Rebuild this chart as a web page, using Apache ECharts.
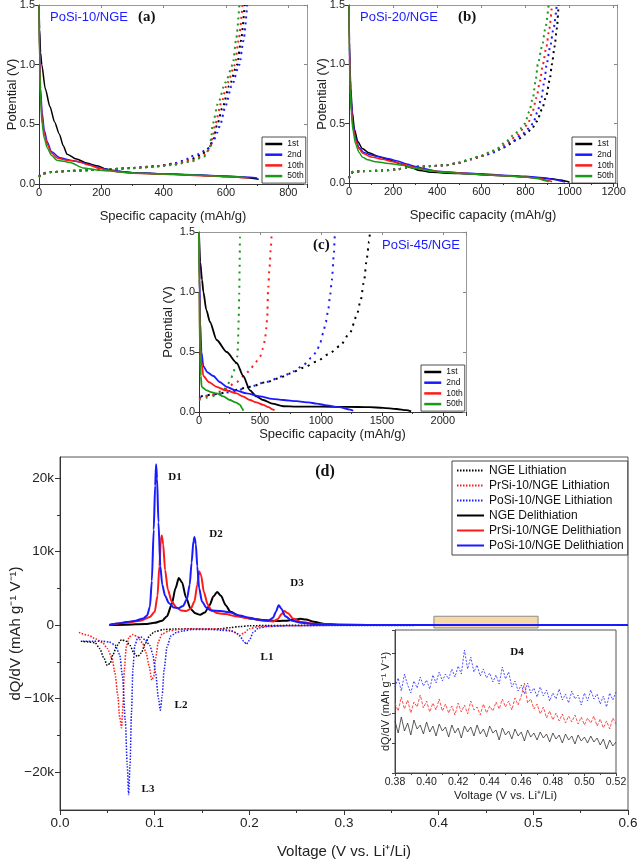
<!DOCTYPE html>
<html>
<head>
<meta charset="utf-8">
<script src="https://cdn.jsdelivr.net/npm/echarts@6/dist/echarts.min.js"></script>
<style>
html, body { margin: 0; padding: 0; background: #fff; }
#main { width: 640px; height: 862px; }
</style>
</head>
<body>
<div id="main"></div>
<script>
// ---- panel (a) PoSi-10/NGE : [capacity mAh/g, potential V]
var aDis1 = [[0,1.5],[2,1.3],[5,1.1],[9,1.0],[20,0.8],[35,0.65],[50,0.52],[65,0.42],[78,0.32],[90,0.25],[120,0.21],[153,0.175],[190,0.15],[215,0.125],[240,0.11],[270,0.102],[300,0.095],[400,0.085],[500,0.075],[600,0.062],[660,0.055],[705,0.04]];
var aDis2 = [[0,1.5],[2,1.1],[5,0.8],[10,0.6],[17,0.45],[27,0.35],[40,0.27],[67,0.22],[100,0.2],[131,0.185],[165,0.16],[195,0.135],[225,0.12],[260,0.105],[300,0.095],[400,0.086],[500,0.078],[600,0.066],[660,0.058],[700,0.05]];
var aDis10 = [[0,1.5],[2,1.05],[5,0.75],[10,0.55],[17,0.42],[27,0.33],[40,0.26],[60,0.215],[90,0.2],[120,0.19],[160,0.16],[195,0.13],[225,0.115],[260,0.1],[300,0.09],[400,0.082],[500,0.072],[600,0.06],[672,0.05]];
var aDis50 = [[0,1.5],[2,1.0],[5,0.7],[10,0.5],[17,0.38],[27,0.3],[40,0.24],[57,0.2],[80,0.19],[100,0.18],[141,0.135],[195,0.115],[230,0.108],[260,0.1],[300,0.092],[400,0.083],[500,0.075],[600,0.062],[663,0.055]];
var aChg1 = [[0,0.06],[10,0.085],[40,0.1],[100,0.11],[200,0.12],[300,0.135],[380,0.15],[430,0.17],[480,0.2],[520,0.24],[545,0.3],[560,0.38],[572,0.5],[590,0.65],[610,0.82],[636,1.0],[648,1.2],[660,1.5]];
var aChg2 = [[0,0.065],[10,0.09],[40,0.1],[100,0.11],[200,0.12],[300,0.135],[380,0.15],[430,0.17],[470,0.2],[485,0.23],[510,0.25],[540,0.29],[560,0.36],[572,0.43],[582,0.5],[598,0.65],[618,0.82],[643,1.0],[656,1.2],[668,1.5]];
var aChg10 = [[0,0.06],[10,0.085],[40,0.1],[100,0.11],[200,0.12],[300,0.133],[380,0.148],[430,0.165],[490,0.2],[530,0.24],[550,0.3],[558,0.4],[565,0.5],[585,0.68],[605,0.85],[629,1.0],[640,1.2],[653,1.5]];
var aChg50 = [[0,0.055],[10,0.085],[40,0.1],[100,0.11],[200,0.12],[300,0.132],[380,0.146],[430,0.16],[490,0.19],[530,0.23],[548,0.3],[553,0.4],[557,0.5],[575,0.68],[598,0.85],[622,1.0],[632,1.2],[643,1.5]];

// ---- panel (b) PoSi-20/NGE
var bDis1 = [[0,1.5],[2,1.2],[4,1.0],[8,0.8],[15,0.6],[25,0.45],[40,0.35],[60,0.29],[90,0.255],[130,0.225],[180,0.195],[230,0.165],[280,0.13],[320,0.105],[380,0.09],[450,0.083],[550,0.075],[650,0.066],[750,0.056],[850,0.045],[920,0.035],[960,0.025],[990,0.012],[1000,0.005]];
var bDis2 = [[0,1.5],[2,1.15],[5,0.9],[10,0.7],[18,0.5],[30,0.38],[45,0.3],[65,0.26],[100,0.235],[140,0.22],[180,0.205],[220,0.185],[260,0.16],[300,0.14],[340,0.12],[400,0.1],[500,0.087],[600,0.077],[700,0.066],[800,0.056],[880,0.045],[930,0.03],[965,0.015],[980,0.008]];
var bDis10 = [[0,1.5],[2,1.1],[5,0.85],[10,0.65],[18,0.47],[30,0.36],[45,0.29],[62,0.25],[100,0.22],[150,0.2],[200,0.18],[250,0.155],[300,0.13],[350,0.11],[420,0.095],[520,0.082],[620,0.07],[720,0.06],[800,0.05],[860,0.04],[900,0.022],[920,0.01]];
var bDis50 = [[0,1.5],[2,1.05],[5,0.8],[10,0.6],[18,0.44],[30,0.33],[45,0.26],[60,0.22],[85,0.195],[120,0.18],[180,0.165],[240,0.15],[300,0.125],[360,0.105],[430,0.09],[530,0.078],[630,0.068],[730,0.058],[810,0.048],[860,0.035],[890,0.018],[905,0.01]];
var bChg1 = [[0,0.04],[8,0.08],[20,0.095],[60,0.1],[150,0.105],[220,0.115],[260,0.13],[320,0.138],[380,0.143],[440,0.15],[500,0.17],[550,0.2],[610,0.23],[660,0.26],[700,0.3],[760,0.36],[800,0.41],[830,0.46],[852,0.52],[875,0.62],[895,0.74],[910,0.87],[920,1.0],[932,1.15],[942,1.3],[950,1.5]];
var bChg2 = [[0,0.04],[8,0.08],[20,0.095],[60,0.1],[150,0.105],[220,0.115],[260,0.13],[320,0.138],[380,0.143],[440,0.15],[500,0.17],[550,0.2],[610,0.23],[655,0.26],[690,0.29],[740,0.35],[785,0.41],[815,0.46],[834,0.5],[855,0.6],[872,0.72],[886,0.86],[896,1.0],[912,1.15],[927,1.3],[942,1.5]];
var bChg10 = [[0,0.04],[8,0.08],[20,0.095],[60,0.1],[150,0.105],[220,0.115],[260,0.13],[320,0.138],[380,0.143],[440,0.15],[500,0.17],[550,0.2],[605,0.23],[645,0.26],[680,0.29],[725,0.35],[765,0.41],[792,0.46],[811,0.5],[832,0.6],[850,0.72],[866,0.86],[879,1.0],[895,1.15],[908,1.3],[920,1.5]];
var bChg50 = [[0,0.04],[8,0.08],[20,0.095],[60,0.1],[150,0.105],[220,0.115],[260,0.13],[320,0.138],[380,0.143],[440,0.15],[500,0.17],[545,0.2],[600,0.23],[640,0.26],[670,0.29],[712,0.35],[750,0.41],[778,0.46],[797,0.5],[817,0.6],[834,0.72],[846,0.86],[856,1.0],[875,1.15],[890,1.3],[905,1.5]];

// ---- panel (c) PoSi-45/NGE
var cDis1 = [[0,1.5],[10,1.25],[25,1.1],[36,1.0],[60,0.85],[90,0.75],[145,0.6],[227,0.5],[309,0.41],[363,0.3],[418,0.18],[470,0.13],[527,0.1],[600,0.07],[691,0.048],[800,0.045],[1000,0.044],[1200,0.043],[1400,0.04],[1510,0.035],[1620,0.025],[1700,0.015],[1740,0.005]];
var cDis2 = [[0,1.5],[5,1.1],[10,0.75],[20,0.5],[36,0.38],[70,0.33],[118,0.3],[170,0.25],[227,0.21],[300,0.18],[391,0.155],[500,0.13],[600,0.11],[691,0.1],[800,0.09],[900,0.08],[964,0.07],[1050,0.055],[1150,0.04],[1238,0.02],[1265,0.01]];
var cDis10 = [[0,1.5],[4,1.0],[8,0.59],[20,0.42],[36,0.3],[80,0.25],[145,0.21],[220,0.18],[309,0.155],[360,0.13],[418,0.1],[470,0.08],[527,0.06],[570,0.04],[609,0.02],[620,0.015]];
var cDis50 = [[0,1.5],[3,1.0],[8,0.48],[15,0.3],[22,0.21],[63,0.18],[100,0.165],[145,0.155],[200,0.13],[254,0.1],[300,0.08],[336,0.06],[355,0.03],[363,0.01]];
var cChg1 = [[15,0.13],[150,0.15],[281,0.18],[420,0.21],[555,0.25],[650,0.28],[746,0.32],[860,0.37],[964,0.42],[1060,0.48],[1156,0.55],[1238,0.66],[1293,0.8],[1326,0.93],[1355,1.1],[1375,1.27],[1395,1.42],[1402,1.5]];
var cChg2 = [[0,0.12],[150,0.15],[281,0.17],[418,0.21],[550,0.25],[691,0.3],[780,0.34],[855,0.39],[920,0.45],[964,0.5],[995,0.58],[1019,0.66],[1040,0.75],[1060,0.85],[1074,0.96],[1090,1.1],[1105,1.3],[1115,1.48],[1118,1.5]];
var cChg10 = [[0,0.11],[100,0.14],[200,0.18],[309,0.25],[370,0.3],[418,0.35],[460,0.41],[500,0.46],[525,0.53],[541,0.6],[552,0.7],[560,0.8],[566,1.0],[578,1.2],[590,1.38],[596,1.48],[598,1.5]];
var cChg50 = [[0,0.1],[70,0.12],[145,0.14],[200,0.18],[227,0.21],[255,0.26],[281,0.32],[300,0.4],[314,0.46],[320,0.55],[322,0.66],[326,0.8],[330,0.99],[333,1.2],[336,1.45],[337,1.5]];

// ---- panel (d) dQ/dV : [voltage V, dQ/dV in thousands]
var ngeLith = [[0.022,-2.2],[0.03,-2.3],[0.037,-2.4],[0.042,-3.2],[0.046,-4.4],[0.05,-5.5],[0.053,-5.2],[0.056,-4],[0.06,-2.8],[0.065,-2],[0.07,-2.2],[0.074,-2.8],[0.078,-3.8],[0.082,-4.3],[0.086,-3.8],[0.09,-2.5],[0.095,-1.4],[0.1,-0.9],[0.11,-0.6],[0.12,-0.55],[0.14,-0.5],[0.16,-0.55],[0.17,-0.5],[0.18,-0.35],[0.19,-0.2],[0.2,-0.1],[0.22,-0.05],[0.3,0],[0.6,0]];
var prLith = [[0.02,-1],[0.03,-1.4],[0.038,-1.9],[0.045,-2.4],[0.05,-3.2],[0.055,-4.5],[0.058,-6.5],[0.061,-9.5],[0.063,-12.5],[0.065,-14],[0.0665,-11],[0.068,-6],[0.07,-3],[0.073,-1.6],[0.077,-1.3],[0.082,-1.6],[0.087,-2.4],[0.091,-3.8],[0.094,-5.5],[0.097,-7.5],[0.099,-7],[0.101,-4.5],[0.104,-2.2],[0.108,-1.2],[0.115,-0.8],[0.125,-0.6],[0.14,-0.5],[0.16,-0.5],[0.175,-0.6],[0.182,-0.8],[0.187,-1.2],[0.19,-1.4],[0.194,-1.1],[0.2,-0.5],[0.21,-0.2],[0.23,-0.1],[0.3,-0.03],[0.6,0]];
var poLith = [[0.024,-2.2],[0.035,-2.2],[0.045,-2.2],[0.052,-2.3],[0.058,-2.7],[0.063,-4],[0.066,-7],[0.069,-13],[0.071,-19],[0.0725,-23.1],[0.074,-19],[0.0755,-12],[0.077,-6],[0.079,-2.8],[0.082,-1.8],[0.085,-1.6],[0.09,-2],[0.095,-2.8],[0.098,-4],[0.101,-6.5],[0.104,-10],[0.106,-11.6],[0.108,-9.5],[0.11,-6],[0.113,-3],[0.117,-1.5],[0.123,-1],[0.13,-0.8],[0.14,-0.6],[0.16,-0.6],[0.17,-0.7],[0.18,-0.8],[0.186,-1],[0.19,-1.5],[0.194,-2.2],[0.197,-2.6],[0.2,-2.1],[0.204,-1],[0.21,-0.4],[0.22,-0.2],[0.24,-0.1],[0.3,-0.05],[0.6,0]];
var ngeDelith = [[0.052,0],[0.07,0.05],[0.09,0.15],[0.1,0.3],[0.108,0.6],[0.113,1.2],[0.118,2.8],[0.122,5],[0.1255,6.4],[0.129,5.8],[0.133,3.8],[0.138,2.2],[0.143,1.6],[0.148,1.4],[0.153,1.7],[0.158,2.7],[0.162,3.9],[0.166,4.5],[0.17,4],[0.175,2.7],[0.18,1.8],[0.19,1.2],[0.2,0.9],[0.215,0.7],[0.23,0.55],[0.24,0.6],[0.248,0.75],[0.254,0.85],[0.26,0.75],[0.268,0.45],[0.28,0.15],[0.3,0.03],[0.35,0],[0.6,0]];
var prDelith = [[0.052,0],[0.07,0.3],[0.085,0.6],[0.095,1.1],[0.1,1.8],[0.103,4],[0.105,8],[0.1065,11.5],[0.1075,12.2],[0.109,11],[0.111,7.5],[0.114,4.8],[0.118,3.2],[0.123,2.4],[0.128,2],[0.133,1.9],[0.138,2.2],[0.142,3.2],[0.145,5.5],[0.147,7.3],[0.149,6.8],[0.152,4.5],[0.156,2.8],[0.16,2],[0.167,1.6],[0.175,1.5],[0.185,1.2],[0.2,0.9],[0.215,0.6],[0.225,0.5],[0.23,0.8],[0.234,1.5],[0.237,1.9],[0.241,1.6],[0.246,0.9],[0.255,0.4],[0.27,0.15],[0.3,0.03],[0.35,0],[0.6,0]];
var poDelith = [[0.052,0],[0.06,0.2],[0.07,0.4],[0.08,0.6],[0.088,0.9],[0.092,1.3],[0.095,2.5],[0.097,6],[0.099,13],[0.1005,19],[0.1015,21.9],[0.1025,20],[0.104,14],[0.106,8],[0.108,5.5],[0.111,4],[0.115,3],[0.12,2.4],[0.125,2.3],[0.13,2.6],[0.134,3.5],[0.137,5.5],[0.139,8.5],[0.141,11.5],[0.142,12],[0.1435,11],[0.145,8],[0.147,5],[0.15,3.2],[0.155,2.3],[0.16,2],[0.17,1.9],[0.18,1.7],[0.19,1.3],[0.2,1],[0.21,0.7],[0.22,0.6],[0.225,1],[0.228,1.8],[0.231,2.7],[0.234,2.2],[0.238,1.2],[0.245,0.6],[0.255,0.3],[0.27,0.1],[0.3,0.02],[0.35,0],[0.6,0]];
var zoomBox = [0.395, 0.505, -0.4, 1.2];   // highlighted voltage window (x0, x1, y0, y1)

// ---- inset (D4 region), arbitrary units
var insetV = [0.380,0.382,0.384,0.386,0.388,0.390,0.392,0.394,0.396,0.398,0.400,0.402,0.404,0.406,0.408,0.410,0.412,0.414,0.416,0.418,0.420,0.422,0.424,0.426,0.428,0.430,0.432,0.434,0.436,0.438,0.440,0.442,0.444,0.446,0.448,0.450,0.452,0.454,0.456,0.458,0.460,0.462,0.464,0.466,0.468,0.470,0.472,0.474,0.476,0.478,0.480,0.482,0.484,0.486,0.488,0.490,0.492,0.494,0.496,0.498,0.500,0.502,0.504,0.506,0.508,0.510,0.512,0.514,0.516,0.518,0.520];
var insetPo = [86,95,82,99,88,80,92,85,96,87,93,84,98,90,101,92,99,94,104,96,107,99,123,104,116,101,108,97,104,95,100,91,98,89,106,94,101,86,92,82,88,79,90,80,85,76,86,77,83,72,80,74,84,73,79,70,82,74,78,68,80,72,83,74,79,69,77,66,80,73,81];
var insetPr = [70,62,76,64,73,60,71,66,78,65,72,61,70,63,74,62,69,60,67,58,70,61,68,59,72,63,66,58,69,60,67,62,71,64,74,66,72,63,75,68,77,90,70,74,64,69,59,66,55,62,53,60,52,59,50,57,51,58,49,56,48,55,50,57,47,54,45,52,44,55,49];
var insetNge = [52,40,56,42,50,38,53,44,48,39,51,41,47,37,49,42,46,36,48,40,45,35,47,41,46,37,48,39,44,36,47,40,43,33,45,38,42,34,44,37,41,32,43,36,40,33,41,35,39,31,40,34,38,30,39,33,37,29,38,32,36,30,37,31,35,28,34,24,33,27,31];

var BLK = '#000000', BLU = '#1a1aff', RED = '#ff1a1a', GRN = '#1a9a1a';
var SANS = '"Liberation Sans", Arial, sans-serif';
var SERIF = '"Liberation Serif", "Times New Roman", serif';

function pairs(xs, ys) {
  return xs.map(function (x, i) { return [x, ys[i]]; });
}

function lineSeries(name, data, color, xi, yi, dash, width) {
  return {
    type: 'line', name: name, data: data, xAxisIndex: xi, yAxisIndex: yi,
    symbol: 'none', smooth: 0.25, smoothMonotone: 'x', silent: true, animation: false,
    lineStyle: { color: color, width: width, type: dash || 'solid' },
    itemStyle: { color: color }
  };
}

function capBottom(grid, max, nameGap) {
  return {
    type: 'value', gridIndex: grid, min: 0, max: max, interval: 200, position: 'bottom',
    axisLine: { show: true, onZero: false, lineStyle: { color: '#333' } },
    axisTick: { show: true, length: 4, lineStyle: { color: '#333' } },
    minorTick: { show: true, splitNumber: 2, length: 2, lineStyle: { color: '#333' } },
    axisLabel: { color: '#222', fontSize: 11, fontFamily: SANS, margin: 3, showMaxLabel: false,
      formatter: function (v) { return String(v); } },
    splitLine: { show: false }, minorSplitLine: { show: false },
    name: 'Specific capacity (mAh/g)', nameLocation: 'middle', nameGap: nameGap, nameMoveOverlap: false,
    nameTextStyle: { color: '#222', fontSize: 13, fontFamily: SANS }
  };
}
function capTop(grid, max) {
  return {
    type: 'value', gridIndex: grid, min: 0, max: max, interval: 200, position: 'top',
    axisLine: { show: true, onZero: false, lineStyle: { color: '#999' } },
    axisTick: { show: true, inside: true, length: 3, lineStyle: { color: '#888' } },
    axisLabel: { show: false }, splitLine: { show: false }
  };
}
function potLeft(grid) {
  return {
    type: 'value', gridIndex: grid, min: 0, max: 1.5, interval: 0.5, position: 'left',
    axisLine: { show: true, onZero: false, lineStyle: { color: '#333' } },
    axisTick: { show: true, length: 4, lineStyle: { color: '#333' } },
    axisLabel: { color: '#222', fontSize: 11, fontFamily: SANS, margin: 4,
      formatter: function (v) { return v.toFixed(1); } },
    splitLine: { show: false },
    name: 'Potential (V)', nameLocation: 'middle', nameGap: 20, nameMoveOverlap: false,
    nameTextStyle: { color: '#222', fontSize: 13, fontFamily: SANS }
  };
}
function potRight(grid) {
  return {
    type: 'value', gridIndex: grid, min: 0, max: 1.5, interval: 0.5, position: 'right',
    axisLine: { show: true, onZero: false, lineStyle: { color: '#999' } },
    axisTick: { show: true, inside: true, length: 3, lineStyle: { color: '#888' } },
    axisLabel: { show: false }, splitLine: { show: false }
  };
}
function cycleLegend(left, top) {
  return {
    show: true, orient: 'vertical', left: left, top: top, selectedMode: false,
    data: ['1st', '2nd', '10th', '50th'],
    itemWidth: 17, itemHeight: 4, itemGap: 0.7, padding: [2, 2, 2, 2],
    borderColor: '#222', borderWidth: 0.8, backgroundColor: '#fff',
    itemStyle: { opacity: 0 }, lineStyle: { width: 2.5 },
    textStyle: { fontSize: 8.5, fontFamily: SANS, color: '#111', lineHeight: 10 }
  };
}
function kFmt(v) {
  if (v === 0) return '0';
  return (v < 0 ? '\u2212' + (-v) : v) + 'k';
}

var series = [];
// panel (a)
series.push(lineSeries('1st c', aChg1, BLK, 0, 0, [2, 4], 2));
series.push(lineSeries('2nd c', aChg2, BLU, 0, 0, [2, 4], 2));
series.push(lineSeries('10th c', aChg10, RED, 0, 0, [2, 4], 2));
series.push(lineSeries('50th c', aChg50, GRN, 0, 0, [2, 4], 2));
series.push(lineSeries('1st', aDis1, BLK, 0, 0, null, 1.5));
series.push(lineSeries('2nd', aDis2, BLU, 0, 0, null, 1.5));
series.push(lineSeries('10th', aDis10, RED, 0, 0, null, 1.5));
series.push(lineSeries('50th', aDis50, GRN, 0, 0, null, 1.5));
// panel (b)
series.push(lineSeries('1st c', bChg1, BLK, 2, 2, [2, 4], 2));
series.push(lineSeries('2nd c', bChg2, BLU, 2, 2, [2, 4], 2));
series.push(lineSeries('10th c', bChg10, RED, 2, 2, [2, 4], 2));
series.push(lineSeries('50th c', bChg50, GRN, 2, 2, [2, 4], 2));
series.push(lineSeries('1st', bDis1, BLK, 2, 2, null, 1.5));
series.push(lineSeries('2nd', bDis2, BLU, 2, 2, null, 1.5));
series.push(lineSeries('10th', bDis10, RED, 2, 2, null, 1.5));
series.push(lineSeries('50th', bDis50, GRN, 2, 2, null, 1.5));
// panel (c)
series.push(lineSeries('1st c', cChg1, BLK, 4, 4, [2, 5], 2));
series.push(lineSeries('2nd c', cChg2, BLU, 4, 4, [2, 5], 2));
series.push(lineSeries('10th c', cChg10, RED, 4, 4, [2, 5], 2));
series.push(lineSeries('50th c', cChg50, GRN, 4, 4, [2, 5], 2));
series.push(lineSeries('1st', cDis1, BLK, 4, 4, null, 1.8));
series.push(lineSeries('2nd', cDis2, BLU, 4, 4, null, 1.8));
series.push(lineSeries('10th', cDis10, RED, 4, 4, null, 1.8));
series.push(lineSeries('50th', cDis50, GRN, 4, 4, null, 1.8));
// panel (d)
series.push(lineSeries('NGE Lithiation', ngeLith, BLK, 6, 6, [1.5, 1.5], 1.5));
series.push(lineSeries('PrSi-10/NGE Lithiation', prLith, RED, 6, 6, [1.5, 1.5], 1.5));
series.push(lineSeries('PoSi-10/NGE Lithiation', poLith, BLU, 6, 6, [1.5, 1.5], 1.5));
series.push(lineSeries('NGE Delithiation', ngeDelith, BLK, 6, 6, null, 2));
series.push(lineSeries('PrSi-10/NGE Delithiation', prDelith, RED, 6, 6, null, 2));
series.push(lineSeries('PoSi-10/NGE Delithiation', poDelith, BLU, 6, 6, null, 2));
series.push({
  type: 'line', name: 'window', xAxisIndex: 6, yAxisIndex: 6, data: [], z: 10, silent: true,
  markArea: {
    silent: true,
    itemStyle: { color: '#f6d9a6', borderColor: '#8a8a8a', borderWidth: 1 },
    data: [[{ xAxis: zoomBox[0], yAxis: zoomBox[3] }, { xAxis: zoomBox[1], yAxis: zoomBox[2] }]]
  }
});
// inset
var insetNgeS = lineSeries('inset NGE', pairs(insetV, insetNge), '#333333', 7, 8, null, 0.8);
var insetPrS = lineSeries('inset Pr', pairs(insetV, insetPr), '#ff3b3b', 7, 8, [3, 1.5], 0.9);
var insetPoS = lineSeries('inset Po', pairs(insetV, insetPo), '#3d3dff', 7, 8, [2, 1.5], 0.9);
[insetNgeS, insetPrS, insetPoS].forEach(function (s) { s.smooth = false; series.push(s); });

var labels = [
  { t: 'PoSi-10/NGE', x: 50, y: 17, font: '13px ' + SANS, fill: '#1a1aff', align: 'left' },
  { t: '(a)', x: 138, y: 17, font: 'bold 15px ' + SERIF, fill: '#111', align: 'left' },
  { t: 'PoSi-20/NGE', x: 360, y: 17, font: '13px ' + SANS, fill: '#1a1aff', align: 'left' },
  { t: '(b)', x: 458, y: 17, font: 'bold 15px ' + SERIF, fill: '#111', align: 'left' },
  { t: '(c)', x: 313, y: 245, font: 'bold 15px ' + SERIF, fill: '#111', align: 'left' },
  { t: 'PoSi-45/NGE', x: 382, y: 245, font: '13px ' + SANS, fill: '#1a1aff', align: 'left' },
  { t: '(d)', x: 325, y: 472, font: 'bold 16px ' + SERIF, fill: '#111', align: 'center' },
  { t: 'D1', x: 175, y: 477, font: 'bold 11px ' + SERIF, fill: '#111', align: 'center' },
  { t: 'D2', x: 216, y: 534, font: 'bold 11px ' + SERIF, fill: '#111', align: 'center' },
  { t: 'D3', x: 297, y: 583, font: 'bold 11px ' + SERIF, fill: '#111', align: 'center' },
  { t: 'L1', x: 267, y: 657, font: 'bold 11px ' + SERIF, fill: '#111', align: 'center' },
  { t: 'L2', x: 181, y: 705, font: 'bold 11px ' + SERIF, fill: '#111', align: 'center' },
  { t: 'L3', x: 148, y: 789, font: 'bold 11px ' + SERIF, fill: '#111', align: 'center' },
  { t: 'D4', x: 517, y: 652, font: 'bold 11px ' + SERIF, fill: '#111', align: 'center' }
];

var option = {
  backgroundColor: '#fff',
  animation: false,
  grid: [
    { left: 39, top: 5, width: 268, height: 179, outerBoundsMode: 'none' },
    { left: 349, top: 5, width: 268, height: 178, outerBoundsMode: 'none' },
    { left: 199, top: 232, width: 267, height: 180, outerBoundsMode: 'none' },
    { left: 60, top: 457, width: 568, height: 353, outerBoundsMode: 'none', show: true, borderColor: '#555', borderWidth: 1 },
    { left: 395, top: 630, width: 221, height: 143, outerBoundsMode: 'none', show: true, backgroundColor: '#fff', borderColor: '#555', borderWidth: 1 }
  ],
  xAxis: [
    capBottom(0, 860, 26), capTop(0, 860),
    capBottom(1, 1215, 26), capTop(1, 1215),
    (function () { var a = capBottom(2, 2190, 16); a.interval = 500; return a; })(),
    (function () { var a = capTop(2, 2190); a.interval = 500; return a; })(),
    {
      type: 'value', gridIndex: 3, min: 0, max: 0.6, interval: 0.1, position: 'bottom',
      axisLine: { show: true, onZero: false, lineStyle: { color: '#333' } },
      axisTick: { show: true, length: 5, lineStyle: { color: '#333' } },
      minorTick: { show: true, splitNumber: 2, length: 3, lineStyle: { color: '#333' } },
      axisLabel: { color: '#222', fontSize: 13.5, fontFamily: SANS, margin: 6,
        formatter: function (v) { return v.toFixed(1); } },
      splitLine: { show: false }, minorSplitLine: { show: false },
      name: 'Voltage (V vs. Li\u207A/Li)', nameLocation: 'middle', nameGap: 34, nameMoveOverlap: false,
      nameTextStyle: { color: '#222', fontSize: 15, fontFamily: SANS }
    },
    {
      type: 'value', gridIndex: 4, min: 0.38, max: 0.52, interval: 0.02, position: 'bottom',
      axisLine: { show: true, onZero: false, lineStyle: { color: '#444' } },
      axisTick: { show: true, length: 3, lineStyle: { color: '#444' } },
      minorTick: { show: true, splitNumber: 2, length: 2, lineStyle: { color: '#444' } },
      axisLabel: { color: '#222', fontSize: 10.5, fontFamily: SANS, margin: 4,
        formatter: function (v) { return v.toFixed(2); } },
      splitLine: { show: false }, minorSplitLine: { show: false },
      name: 'Voltage (V vs. Li\u207A/Li)', nameLocation: 'middle', nameGap: 17, nameMoveOverlap: false,
      nameTextStyle: { color: '#222', fontSize: 11.5, fontFamily: SANS }
    }
  ],
  yAxis: [
    potLeft(0), potRight(0),
    potLeft(1), potRight(1),
    (function () { var a = potLeft(2); a.nameGap = 24; return a; })(), potRight(2),
    {
      type: 'value', gridIndex: 3, min: -25.2, max: 22.9, position: 'left',
      axisLine: { show: true, onZero: false, lineStyle: { color: '#333' } },
      axisTick: { show: true, length: 5, customValues: [-20, -10, 0, 10, 20], lineStyle: { color: '#333' } },
      axisLabel: { color: '#222', fontSize: 13.5, fontFamily: SANS, margin: 6,
        customValues: [-20, -10, 0, 10, 20], formatter: kFmt },
      splitLine: { show: false },
      name: 'dQ/dV (mAh g\u207B\u00B9 V\u207B\u00B9)', nameLocation: 'middle', nameGap: 37, nameMoveOverlap: false,
      nameTextStyle: { color: '#222', fontSize: 15, fontFamily: SANS }
    },
    {
      type: 'value', gridIndex: 3, min: -25.2, max: 22.9, position: 'left', offset: 0,
      axisLine: { show: false },
      axisTick: { show: true, length: 3, customValues: [-15, -5, 5, 15], lineStyle: { color: '#333' } },
      axisLabel: { show: false }, splitLine: { show: false }
    },
    {
      type: 'value', gridIndex: 4, min: 0, max: 143, interval: 30, position: 'left',
      axisLine: { show: true, onZero: false, lineStyle: { color: '#444' } },
      axisTick: { show: true, length: 3, lineStyle: { color: '#444' } },
      axisLabel: { show: false }, splitLine: { show: false },
      name: 'dQ/dV (mAh g\u207B\u00B9 V\u207B\u00B9)', nameLocation: 'middle', nameGap: 4, nameMoveOverlap: false,
      nameTextStyle: { color: '#222', fontSize: 11, fontFamily: SANS }
    }
  ],
  legend: [
    cycleLegend(262, 137),
    cycleLegend(572, 137),
    cycleLegend(421, 365),
    {
      show: true, orient: 'vertical', left: 452, top: 461, selectedMode: false,
      data: ['NGE Lithiation', 'PrSi-10/NGE Lithiation', 'PoSi-10/NGE Lithiation',
             'NGE Delithiation', 'PrSi-10/NGE Delithiation', 'PoSi-10/NGE Delithiation'],
      itemWidth: 27, itemHeight: 5, itemGap: 2, padding: [3, 4, 3, 4],
      borderColor: '#444', borderWidth: 1, backgroundColor: '#fff',
      itemStyle: { opacity: 0 },
      textStyle: { fontSize: 12, fontFamily: SANS, color: '#111', lineHeight: 13 }
    }
  ],
  graphic: labels.map(function (l) {
    return {
      type: 'text', z: 100, silent: true,
      style: { text: l.t, x: l.x, y: l.y, font: l.font, fill: l.fill, align: l.align, verticalAlign: 'middle' }
    };
  }),
  series: series
};

var chart = echarts.init(document.getElementById('main'), null, { renderer: 'canvas' });
chart.setOption(option);
</script>
</body>
</html>
